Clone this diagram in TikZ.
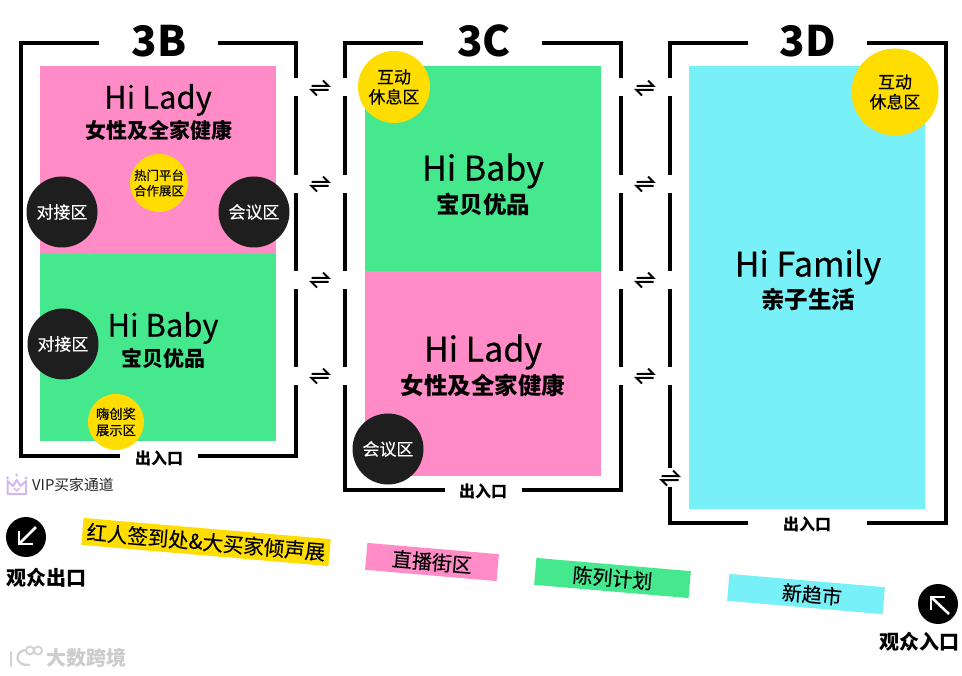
\documentclass[tikz,border=0pt]{standalone}
\usepackage{fontspec}
\setmainfont{Noto Sans CJK SC}
\newfontfamily\thinfont[FakeBold=0.15]{Noto Sans CJK SC}
\newfontfamily\medfont[FakeBold=0.35]{Noto Sans CJK SC}
\definecolor{mypink}{HTML}{FF8CC6}
\definecolor{mygreen}{HTML}{46E88E}
\definecolor{mycyan}{HTML}{78F0F8}
\definecolor{myyellow}{HTML}{FFDD00}
\definecolor{mydark}{HTML}{1E1E1E}
\definecolor{mycrown}{HTML}{D0B8F5}
\newcommand{\fs}[1]{\fontsize{#1}{#1}\selectfont}
\newcommand{\swapmark}[2]{%
  \draw[swapline] (#1-8.5,#2-2) -- (#1+8.5,#2-2) -- (#1+3,#2-7.5);
  \draw[swapline] (#1+8.5,#2+2) -- (#1-8.5,#2+2) -- (#1-3,#2+7.5);
}
\tikzset{
  wall/.style={line width=4pt,black,line cap=butt,line join=miter},
  swapline/.style={line width=2pt,black,line join=miter},
  zone/.style={anchor=north west,inner sep=0pt,outer sep=0pt,minimum width=236pt},
  blackdot/.style={circle,fill=mydark,text=white,inner sep=0pt,minimum size=71pt,font=\thinfont\fs{17},align=center},
  yellowdot/.style={circle,fill=myyellow,text=black,inner sep=0pt,align=center},
  hall/.style={font=\bfseries\fs{42},text=black,inner sep=0pt},
  big/.style={font=\medfont\fs{31},inner sep=0pt},
  sub/.style={font=\bfseries\fs{21},inner sep=0pt},
  bigb/.style={font=\medfont\fs{34},inner sep=0pt},
  subb/.style={font=\bfseries\fs{23.5},inner sep=0pt},
  door/.style={font=\bfseries\fs{16},inner sep=0pt},
  band/.style={rotate=-4.9,inner sep=0pt,minimum height=27pt,font=\thinfont\fs{20}},
  exitlabel/.style={font=\bfseries\fs{20},inner sep=0pt},
  arrowdot/.style={circle,fill=black,inner sep=0pt,minimum size=40pt},
  arrowline/.style={line width=2.6pt,white,line join=miter}
}
\begin{document}
\begin{tikzpicture}[x=1pt,y=-1pt]
\useasboundingbox[fill=white] (0,0) rectangle (962,676);
% zones
\node[zone,fill=mypink,minimum height=188pt] (b1) at (40,66) {};
\node[zone,fill=mygreen,minimum height=187pt] (b2) at (40,254) {};
\node[zone,fill=mygreen,minimum height=205pt] (c1) at (365,66) {};
\node[zone,fill=mypink,minimum height=205pt] (c2) at (365,271) {};
\node[zone,fill=mycyan,minimum height=443pt] (d1) at (689,66) {};
% walls 3B
\draw[wall] (99,43) -- (21,43) -- (21,456) -- (120,456);
\draw[wall] (218,43) -- (296,43) -- (296,78);
\draw[wall] (296,96) -- (296,175);
\draw[wall] (296,193) -- (296,271);
\draw[wall] (296,289) -- (296,367);
\draw[wall] (296,385) -- (296,456) -- (198,456);
% walls 3C
\draw[wall] (423,43) -- (345,43) -- (345,78);
\draw[wall] (345,96) -- (345,175);
\draw[wall] (345,193) -- (345,271);
\draw[wall] (345,289) -- (345,367);
\draw[wall] (345,385) -- (345,490) -- (445,490);
\draw[wall] (542,43) -- (621,43) -- (621,78);
\draw[wall] (621,96) -- (621,175);
\draw[wall] (621,193) -- (621,271);
\draw[wall] (621,289) -- (621,367);
\draw[wall] (621,385) -- (621,490) -- (522,490);
% walls 3D
\draw[wall] (748,43) -- (670,43) -- (670,78);
\draw[wall] (670,96) -- (670,175);
\draw[wall] (670,193) -- (670,271);
\draw[wall] (670,289) -- (670,367);
\draw[wall] (670,385) -- (670,468);
\draw[wall] (670,487) -- (670,523) -- (748,523);
\draw[wall] (867,43) -- (946,43) -- (946,523) -- (867,523);
% swap marks
\foreach \yy in {88,184,280,376}{\swapmark{320}{\yy}\swapmark{645}{\yy}}
\swapmark{670}{478}
% hall titles
\node[hall] (t3b) at (159,41) {3B};
\node[hall] (t3c) at (484,41) {3C};
\node[hall] (t3d) at (808,41) {3D};
% zone texts
\node[big] (l1) at (158,100) {Hi Lady};
\node[sub] (l1s) at (159,130) {女性及全家健康};
\node[big] (l2) at (163,328) {Hi Baby};
\node[sub] (l2s) at (163,358) {宝贝优品};
\node[bigb] (l3) at (483,171) {Hi Baby};
\node[subb] (l3s) at (483,204) {宝贝优品};
\node[bigb] (l4) at (483,352) {Hi Lady};
\node[subb] (l4s) at (483,385) {女性及全家健康};
\node[bigb] (l5) at (808,267) {Hi Family};
\node[subb] (l5s) at (808,300) {亲子生活};
% dots
\node[blackdot] (k1) at (62,212) {对接区};
\node[blackdot] (k2) at (254,212) {会议区};
\node[blackdot] (k3) at (63,344) {对接区};
\node[blackdot] (k4) at (388,449) {会议区};
\node[yellowdot,minimum size=58pt,font=\thinfont\fs{12.5}] (y1) at (159,183) {热门平台\\[3pt]合作展区};
\node[yellowdot,minimum size=56pt,font=\thinfont\fs{13.3}] (y2) at (116,422) {嗨创奖\\[3pt]展示区};
\node[yellowdot,minimum size=72pt,font=\thinfont\fs{17}] (y3) at (394,87) {互动\\[3pt]休息区};
\node[yellowdot,minimum size=87pt,font=\thinfont\fs{17}] (y4) at (895,92) {互动\\[3pt]休息区};
% doors
\node[door] (e1) at (159,458) {出入口};
\node[door] (e2) at (483,491) {出入口};
\node[door] (e3) at (807,524) {出入口};
% vip
\draw[mycrown,line width=2pt,line join=round] (7.5,481) -- (7.5,494) -- (26,494) -- (26,481) -- (20.5,486) -- (16.8,480) -- (13,486) -- cycle;
\fill[mycrown] (7.5,478) circle (1.6pt) (16.8,475) circle (1.6pt) (26,478) circle (1.6pt);
\draw[mycrown,line width=1.4pt] (14,488) -- (16.8,491) -- (19.5,488);
\node[anchor=west,inner sep=0pt,font=\fs{14.8},text=black!85] (vip) at (32,485) {VIP买家通道};
% bands
\node[band,fill=myyellow,minimum width=248pt,font=\thinfont\fs{20.5}] (s1) at (206,542) {红人签到处\&大买家倾声展};
\node[band,fill=mypink,minimum width=132pt] (s2) at (432,562) {直播街区};
\node[band,fill=mygreen,minimum width=155pt] (s3) at (612.5,578) {陈列计划};
\node[band,fill=mycyan,minimum width=156pt] (s4) at (806,594) {\hspace*{12pt}新趋市};
% exit / entry
\node[arrowdot] (o1) at (26,537) {};
\draw[arrowline] (36,527) -- (19,544);
\draw[arrowline] (19,531) -- (19,544) -- (33,544);
\node[exitlabel] (o1t) at (46,578) {观众出口};
\node[arrowdot] (o2) at (938,604) {};
\draw[arrowline] (949,614) -- (931,597);
\draw[arrowline] (931,610) -- (931,597) -- (945,597);
\node[exitlabel] (o2t) at (919,642) {观众入口};
% watermark
\draw[black!18,line width=2.4pt,line cap=round] (11,652) -- (11,666);
\draw[black!18,line width=2.4pt,line cap=round] (25,650) .. controls (14,652) and (15,666) .. (29,665);
\draw[black!18,line width=1.8pt] (30,650.5) circle (4pt) (38,650.5) circle (4pt);
\node[font=\bfseries\fs{20},text=black!20,inner sep=0pt] (wm) at (86,658) {大数跨境};
\end{tikzpicture}
\end{document}
